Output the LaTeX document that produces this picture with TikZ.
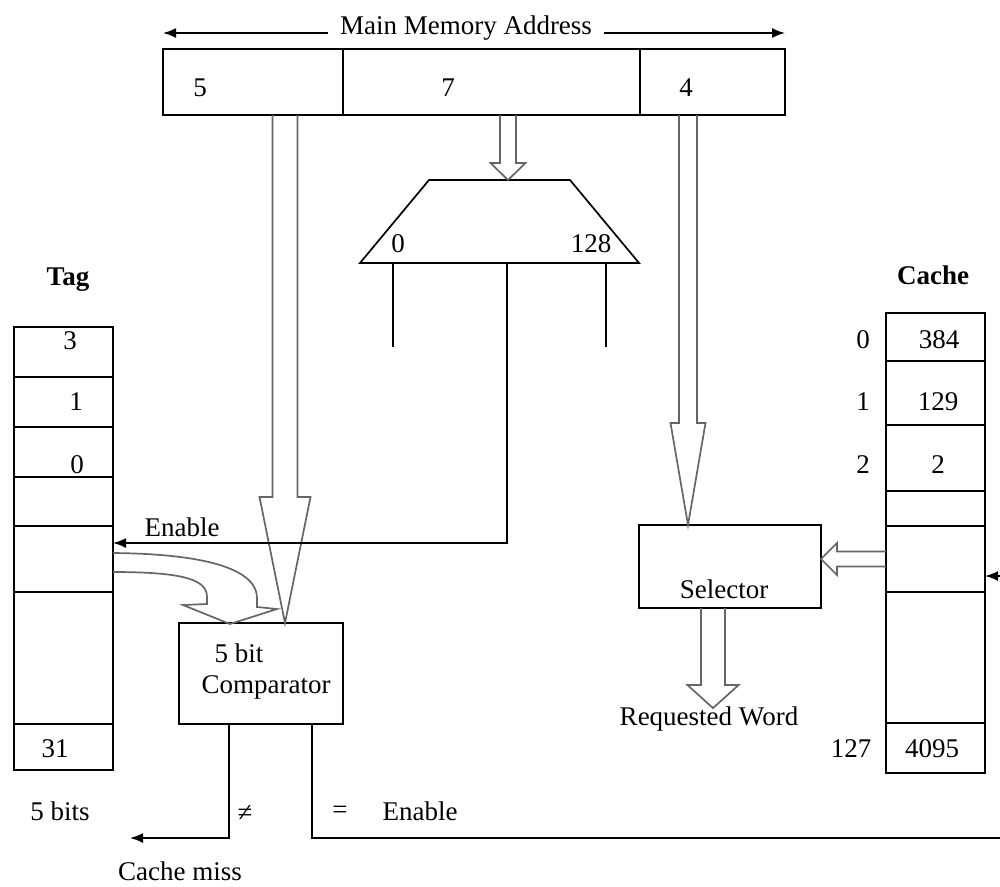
\documentclass[tikz,border=0pt]{standalone}
\usepackage{fontspec}
\setmainfont{Liberation Serif}
\usetikzlibrary{positioning,calc,arrows.meta}
% hollow block arrows: start, end, half shaft, half head, head length
\newcommand{\fatdown}[5]{%
  \draw[hollow] let \p1=(#1), \p2=(#2) in
    (\x1-#3,\y1) -- (\x1-#3,\y2+#5) -- (\x1-#4,\y2+#5) -- (\x1,\y2)
    -- (\x1+#4,\y2+#5) -- (\x1+#3,\y2+#5) -- (\x1+#3,\y1);}
\newcommand{\fatleft}[5]{%
  \draw[hollow] let \p1=(#1), \p2=(#2) in
    (\x1,\y1+#3) -- (\x2+#5,\y1+#3) -- (\x2+#5,\y1+#4) -- (\x2,\y1)
    -- (\x2+#5,\y1-#4) -- (\x2+#5,\y1-#3) -- (\x1,\y1-#3);}

\begin{document}
\begin{tikzpicture}[x=1pt,y=-1pt,font=\fontsize{27}{30}\selectfont,
    box/.style={draw,line width=1.7pt,inner sep=0pt,outer sep=0pt},
    cell/.style={box,minimum width=99pt},
    sig/.style={line width=1.7pt},
    tip/.style={-{Latex[length=13pt,width=10pt]}},
    hollow/.style={draw=black!60,line width=1.7pt},
    lbl/.style={anchor=base,inner sep=0pt}]
  \useasboundingbox[fill=white] (0,0) rectangle (1000,886);
  % main memory address
  \node[box,minimum width=180pt,minimum height=66pt](addr5) at (253,82){};
  \node[box,minimum width=297pt,minimum height=66pt](addr7) at (491.5,82){};
  \node[box,minimum width=145pt,minimum height=66pt](addr4) at (712.5,82){};
  \node[lbl] at (200,96){5}; \node[lbl] at (448,96){7}; \node[lbl] at (686,96){4};
  \node[lbl,inner sep=12pt](mma) at (466,34){Main Memory Address};
  \coordinate (al) at (163,33); \coordinate (ar) at (785,33);
  \draw[sig,tip] (mma.west |- al) -- (al);
  \draw[sig,tip] (mma.east |- ar) -- (ar);
  % decoder
  \node[minimum width=279pt,minimum height=83pt,inner sep=0pt,outer sep=0pt](dec) at (499.5,221.5){};
  \draw[sig] (dec.south west) -- ([xshift=69pt]dec.north west) -- ([xshift=-69pt]dec.north east) -- (dec.south east) -- cycle;
  \node[lbl] at (398,252){0}; \node[lbl] at (591,252){128};
  \draw[sig] ([xshift=-106.5pt]dec.south) -- ++(0,84);
  \draw[sig] ([xshift=106.5pt]dec.south) -- ++(0,84);
  % tag memory
  \node[lbl,font=\fontsize{27}{30}\selectfont\bfseries] at (68,285){Tag};
  \foreach \t/\b [count=\i] in {327/377,377/427,427/477,477/526,526/592,592/724,724/770}
    \node[cell,minimum height={\b-\t}](tag\i) at (63.5,{(\t+\b)/2}){};
  \node[lbl] at (70,349){3}; \node[lbl] at (76,410){1}; \node[lbl] at (77,473){0};
  \node[lbl] at (55,757){31}; \node[lbl] at (60,820){5 bits};
  % cache memory
  \node[lbl,font=\fontsize{27}{30}\selectfont\bfseries] at (933,284){Cache};
  \foreach \t/\b [count=\i] in {313/361,361/425,425/491,491/526,526/592,592/723,723/773}
    \node[cell,minimum height={\b-\t}](cache\i) at (935.5,{(\t+\b)/2}){};
  \node[lbl] at (939,348){384}; \node[lbl] at (938,410){129}; \node[lbl] at (938,473){2};
  \node[lbl] at (932,757){4095};
  \node[lbl] at (863,348){0}; \node[lbl] at (863,410){1}; \node[lbl] at (863,473){2};
  \node[lbl] at (851,757){127};
  % comparator and selector
  \node[box,minimum width=164pt,minimum height=101pt](comp) at (261,673.5){};
  \node[lbl] at (239,662){5 bit}; \node[lbl] at (266,693){Comparator};
  \node[box,minimum width=182pt,minimum height=83pt](sel) at (730,566.5){};
  \node[lbl] at (724,598){Selector};
  \node[lbl](word) at (709,725){Requested Word};
  % hollow arrows
  \fatdown{[xshift=32pt]addr5.south}{comp.north}{12.5pt}{25.5pt}{126pt}
  \fatdown{[xshift=16.5pt]addr7.south}{dec.north}{8pt}{17.5pt}{17pt}
  \fatdown{[xshift=-24.5pt]addr4.south}{sel.north}{9pt}{17.5pt}{102pt}
  \fatdown{[xshift=-17pt]sel.south}{[yshift=-2pt]word.north}{12pt}{25.5pt}{23pt}
  \fatleft{cache5.west}{sel.east}{7.5pt}{16pt}{16pt}
  \draw[hollow] (113,553) .. controls (215,554) and (257,572) .. (257,598) -- (257,607)
    -- (277,609) -- (230,624) -- (183,605) -- (207,604) -- (207,597)
    .. controls (207,580) and (185,572) .. (113,572);
  % enable and outputs
  \draw[sig,tip] ([xshift=7.5pt]dec.south) |- ([yshift=16pt]tag5.east);
  \node[lbl] at (182,536){Enable};
  \coordinate (miss) at (130,838); \coordinate (rt) at (1010,838);
  \draw[sig,tip] ([xshift=-32pt]comp.south) |- (miss);
  \draw[sig,tip] ([xshift=51pt]comp.south) |- (rt) |- ([yshift=-17pt]cache5.east);
  \node[lbl] at (245,821){≠}; \node[lbl] at (340,818){=}; \node[lbl] at (420,820){Enable};
  \node[lbl] at (180,880){Cache miss};
\end{tikzpicture}
\end{document}
